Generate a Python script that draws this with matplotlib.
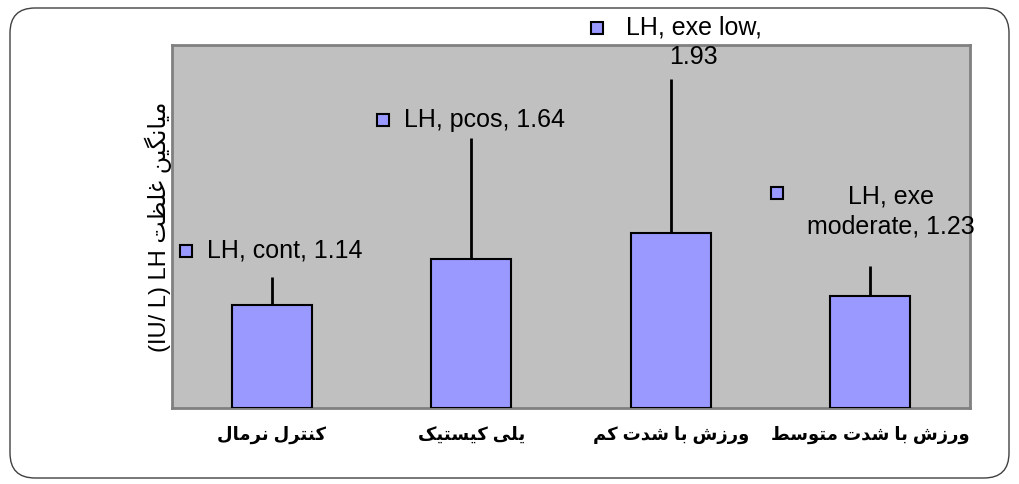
import numpy as np
import matplotlib
matplotlib.use("Agg")
import matplotlib.pyplot as plt
from matplotlib.patches import FancyBboxPatch
from matplotlib.transforms import ScaledTranslation

# data
categories = ["کنترل نرمال", "یلی کیستیک", "ورزش با شدت کم", "ورزش با شدت متوسط"]
short_names = ["cont", "pcos", "exe low", "exe moderate"]
means = [1.14, 1.64, 1.93, 1.23]
errors = [0.30, 1.34, 1.70, 0.33]
series = "LH"
ylabel_fa = "میانگین غلظت"
ylabel_en = "(IU/ L) LH"

plt.rcParams['font.family'] = ['Liberation Sans', 'DejaVu Sans']

# matplotlib does no arabic shaping -> use presentation forms, reversed
# (isolated, final, initial, medial)
FORMS = {
    'ا': ('\uFE8D', '\uFE8E', None, None),
    'ب': ('\uFE8F', '\uFE90', '\uFE91', '\uFE92'),
    'پ': ('\uFB56', '\uFB57', '\uFB58', '\uFB59'),
    'ت': ('\uFE95', '\uFE96', '\uFE97', '\uFE98'),
    'د': ('\uFEA9', '\uFEAA', None, None),
    'ر': ('\uFEAD', '\uFEAE', None, None),
    'ز': ('\uFEAF', '\uFEB0', None, None),
    'س': ('\uFEB1', '\uFEB2', '\uFEB3', '\uFEB4'),
    'ش': ('\uFEB5', '\uFEB6', '\uFEB7', '\uFEB8'),
    'ط': ('\uFEC1', '\uFEC2', '\uFEC3', '\uFEC4'),
    'ظ': ('\uFEC5', '\uFEC6', '\uFEC7', '\uFEC8'),
    'غ': ('\uFECD', '\uFECE', '\uFECF', '\uFED0'),
    'ل': ('\uFEDD', '\uFEDE', '\uFEDF', '\uFEE0'),
    'م': ('\uFEE1', '\uFEE2', '\uFEE3', '\uFEE4'),
    'ن': ('\uFEE5', '\uFEE6', '\uFEE7', '\uFEE8'),
    'و': ('\uFEED', '\uFEEE', None, None),
    'ک': ('\uFB8E', '\uFB8F', '\uFB90', '\uFB91'),
    'گ': ('\uFB92', '\uFB93', '\uFB94', '\uFB95'),
    'ی': ('\uFBFC', '\uFBFD', '\uFBFE', '\uFBFF'),
}


def shape_word(w):
    out = []
    n = len(w)
    for i, ch in enumerate(w):
        if ch not in FORMS:
            out.append(ch)
            continue
        f = FORMS[ch]
        dual = f[2] is not None
        prev = i > 0 and w[i - 1] in FORMS and FORMS[w[i - 1]][2] is not None
        nxt = dual and i < n - 1 and w[i + 1] in FORMS
        if prev and nxt:
            out.append(f[3])
        elif prev:
            out.append(f[1])
        elif nxt:
            out.append(f[2])
        else:
            out.append(f[0])
    return "".join(out[::-1])


def farsi(text):
    return " ".join(shape_word(w) for w in text.split(" ")[::-1])


fig = plt.figure(figsize=(10.19, 4.84), dpi=100)
fig.patch.set_facecolor('white')

# rounded chart border
border = FancyBboxPatch((0.10, 0.06), 9.99, 4.70, boxstyle="round,pad=0,rounding_size=0.25",
                        transform=fig.dpi_scale_trans, facecolor='none',
                        edgecolor='#404040', linewidth=1.0)
fig.patches.append(border)

ax = fig.add_axes([172 / 1019, 76 / 484, 798 / 1019, 363 / 484])
ax.set_facecolor('#C0C0C0')
for s in ax.spines.values():
    s.set_color('#808080')
    s.set_linewidth(2)

x = np.arange(len(categories))
ax.bar(x, means, width=0.4, color='#9999FF', edgecolor='black', linewidth=1.5, zorder=3)
ax.errorbar(x, means, yerr=[np.zeros(len(errors)), errors], fmt='none',
            ecolor='black', elinewidth=2, capsize=0, zorder=2)

ax.set_xlim(-0.5, len(categories) - 0.5)
ax.set_ylim(0, 4)
ax.set_yticks([])
ax.set_xticks(x)
ax.set_xticklabels([farsi(c) for c in categories], fontsize=13, fontweight='bold')
ax.tick_params(axis='x', length=0, pad=13)

ax.set_ylabel(ylabel_en + " " + farsi(ylabel_fa), fontsize=17, labelpad=0)

# data labels with legend keys (offsets in pixels from bar top)
label_text = [f"{series}, {n}, {v:.2f}" for n, v in zip(short_names, means)]
label_text[2] = f"{series}, {short_names[2]},\n{means[2]:.2f}"
label_text[3] = f"{series}, exe\nmoderate, {means[3]:.2f}"
text_off = [(-65, 54, 'left'), (-67, 139, 'left'), (23, 191, 'center'), (21, 85, 'center')]
key_off = [(-86, 54), (-88, 139), (-74, 205), (-93, 103)]

for i in range(len(categories)):
    dx, dy, ha = text_off[i]
    ax.annotate(label_text[i], xy=(x[i], means[i]), xytext=(dx, dy),
                textcoords='offset pixels', ha=ha, va='center', fontsize=18,
                linespacing=1.3, annotation_clip=False)
    kx, ky = key_off[i]
    tr = ax.transData + ScaledTranslation(kx / 100, ky / 100, fig.dpi_scale_trans)
    ax.plot([x[i]], [means[i]], marker='s', markersize=8, markerfacecolor='#9999FF',
            markeredgecolor='black', markeredgewidth=1.5, transform=tr, clip_on=False)

fig.savefig("out.png", dpi=100)
